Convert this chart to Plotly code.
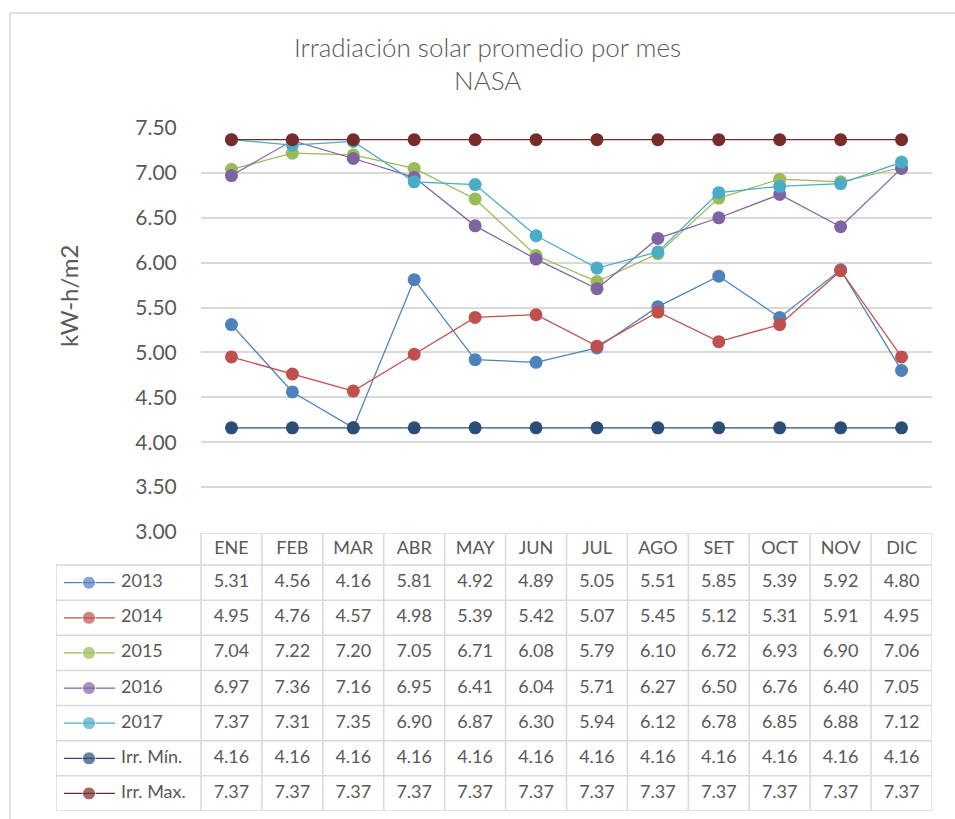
import plotly.graph_objects as go

# datos de la tabla (kW-h/m2)
months = ["ENE", "FEB", "MAR", "ABR", "MAY", "JUN", "JUL", "AGO", "SET", "OCT", "NOV", "DIC"]
series_names = ["2013", "2014", "2015", "2016", "2017", "Irr. Mín.", "Irr. Max."]
y2013 = [5.31, 4.56, 4.16, 5.81, 4.92, 4.89, 5.05, 5.51, 5.85, 5.39, 5.92, 4.80]
y2014 = [4.95, 4.76, 4.57, 4.98, 5.39, 5.42, 5.07, 5.45, 5.12, 5.31, 5.91, 4.95]
y2015 = [7.04, 7.22, 7.20, 7.05, 6.71, 6.08, 5.79, 6.10, 6.72, 6.93, 6.90, 7.06]
y2016 = [6.97, 7.36, 7.16, 6.95, 6.41, 6.04, 5.71, 6.27, 6.50, 6.76, 6.40, 7.05]
y2017 = [7.37, 7.31, 7.35, 6.90, 6.87, 6.30, 5.94, 6.12, 6.78, 6.85, 6.88, 7.12]
irr_min = [4.16] * 12
irr_max = [7.37] * 12
y_ticks = [3.0, 3.5, 4.0, 4.5, 5.0, 5.5, 6.0, 6.5, 7.0, 7.5]

all_series = [y2013, y2014, y2015, y2016, y2017, irr_min, irr_max]
colors = ["#4F81BD", "#C0504D", "#9BBB59", "#8064A2", "#4BACC6", "#2C4D75", "#772C2A"]

W, H = 955, 819
TXT = "#595959"
FONT = "Lato"
GRID = "#d9d9d9"

# geometria (px)
ML, MR = 56, 23
plot_w = W - ML - MR
x_axis_left = 201
col_w = (932 - x_axis_left) / 12
x2_left = -0.5 - (x_axis_left - ML) / col_w
hdr_top = -0.5 - 32 / 35


def px_to_x2(px):
    return x2_left + (px - ML) / col_w


fig = go.Figure()

for name, vals, c in zip(series_names, all_series, colors):
    fig.add_trace(go.Scatter(
        x=months, y=vals, name=name, mode="lines+markers",
        line=dict(color=c, width=1.25),
        marker=dict(color=c, size=13),
        showlegend=False,
    ))

# tabla de datos
fig.add_trace(go.Scatter(
    x=list(range(12)), y=[hdr_top / 2 - 0.25] * 12, text=months, mode="text",
    textfont=dict(family=FONT, size=18, color=TXT),
    xaxis="x2", yaxis="y2", showlegend=False, hoverinfo="skip", cliponaxis=False,
))
for k, (name, vals, c) in enumerate(zip(series_names, all_series, colors)):
    fig.add_trace(go.Scatter(
        x=list(range(12)), y=[k] * 12, text=[f"{v:.2f}" for v in vals], mode="text",
        textfont=dict(family=FONT, size=18, color=TXT),
        xaxis="x2", yaxis="y2", showlegend=False, hoverinfo="skip", cliponaxis=False,
    ))
    # clave de leyenda
    fig.add_trace(go.Scatter(
        x=[px_to_x2(64), px_to_x2(89), px_to_x2(115)], y=[k] * 3, mode="lines+markers",
        line=dict(color=c, width=1.25), marker=dict(color=c, size=[0, 13, 0]),
        xaxis="x2", yaxis="y2", showlegend=False, hoverinfo="skip", cliponaxis=False,
    ))
    fig.add_trace(go.Scatter(
        x=[px_to_x2(121)], y=[k], text=[name], mode="text", textposition="middle right",
        textfont=dict(family=FONT, size=18, color=TXT),
        xaxis="x2", yaxis="y2", showlegend=False, hoverinfo="skip", cliponaxis=False,
    ))

shapes = []
line_style = dict(color=GRID, width=1.5)
for k in range(8):
    shapes.append(dict(type="line", xref="x2", yref="y2", x0=x2_left, x1=11.5,
                       y0=k - 0.5, y1=k - 0.5, line=line_style))
shapes.append(dict(type="line", xref="x2", yref="y2", x0=-0.5, x1=11.5,
                   y0=hdr_top, y1=hdr_top, line=line_style))
for i in range(13):
    shapes.append(dict(type="line", xref="x2", yref="y2", x0=i - 0.5, x1=i - 0.5,
                       y0=hdr_top, y1=6.5, line=line_style))
shapes.append(dict(type="line", xref="x2", yref="y2", x0=x2_left, x1=x2_left,
                   y0=-0.5, y1=6.5, line=line_style))
# borde del grafico
shapes.append(dict(type="rect", xref="paper", yref="paper",
                   x0=(10 - ML) / plot_w, x1=(990 - ML) / plot_w,
                   y0=-0.1, y1=1 - 13 / H, line=dict(color=GRID, width=1.5)))

title_font = dict(family=FONT, size=26, color=TXT, weight=300)

fig.update_layout(
    width=W, height=H,
    margin=dict(l=ML, r=MR, t=0, b=0, autoexpand=False),
    paper_bgcolor="white", plot_bgcolor="white",
    font=dict(family=FONT, color=TXT),
    shapes=shapes,
    annotations=[
        dict(text="Irradiación solar promedio por mes", xref="paper", yref="paper",
             x=(487 - ML) / plot_w, y=1 - 47 / H, showarrow=False,
             font=title_font, xanchor="center", yanchor="middle"),
        dict(text="NASA", xref="paper", yref="paper",
             x=(487 - ML) / plot_w, y=1 - 80 / H, showarrow=False,
             font=title_font, xanchor="center", yanchor="middle"),
        dict(text="kW-h/m2", xref="paper", yref="paper", textangle=-90,
             x=(68 - ML) / plot_w, y=1 - 296 / H, showarrow=False,
             font=dict(family=FONT, size=24, color=TXT), xanchor="center", yanchor="middle"),
    ],
    xaxis=dict(domain=[(x_axis_left - ML) / plot_w, 1], type="category",
               range=[-0.5, 11.5], showgrid=False, showline=False,
               showticklabels=False, zeroline=False, fixedrange=True),
    yaxis=dict(domain=[1 - 532 / H, 1 - 128 / H], range=[3, 7.5],
               tickvals=y_ticks, tickformat=".2f",
               showgrid=True, gridcolor=GRID, gridwidth=1.5, zeroline=False,
               showline=False, ticks="outside", ticklen=19, tickcolor="rgba(0,0,0,0)",
               tickfont=dict(family=FONT, size=21, color=TXT), fixedrange=True),
    xaxis2=dict(domain=[0, 1], range=[x2_left, 11.5], visible=False, fixedrange=True,
                anchor="y2"),
    yaxis2=dict(domain=[1 - 811 / H, 1 - 533 / H], range=[6.5, hdr_top], visible=False,
                fixedrange=True, anchor="x2"),
)

# quitar el margen por defecto del <body> para que el grafico empiece en (0, 0)
fig.write_html("out.html", config=dict(displayModeBar=False),
               post_script="document.body.style.margin='0';")
